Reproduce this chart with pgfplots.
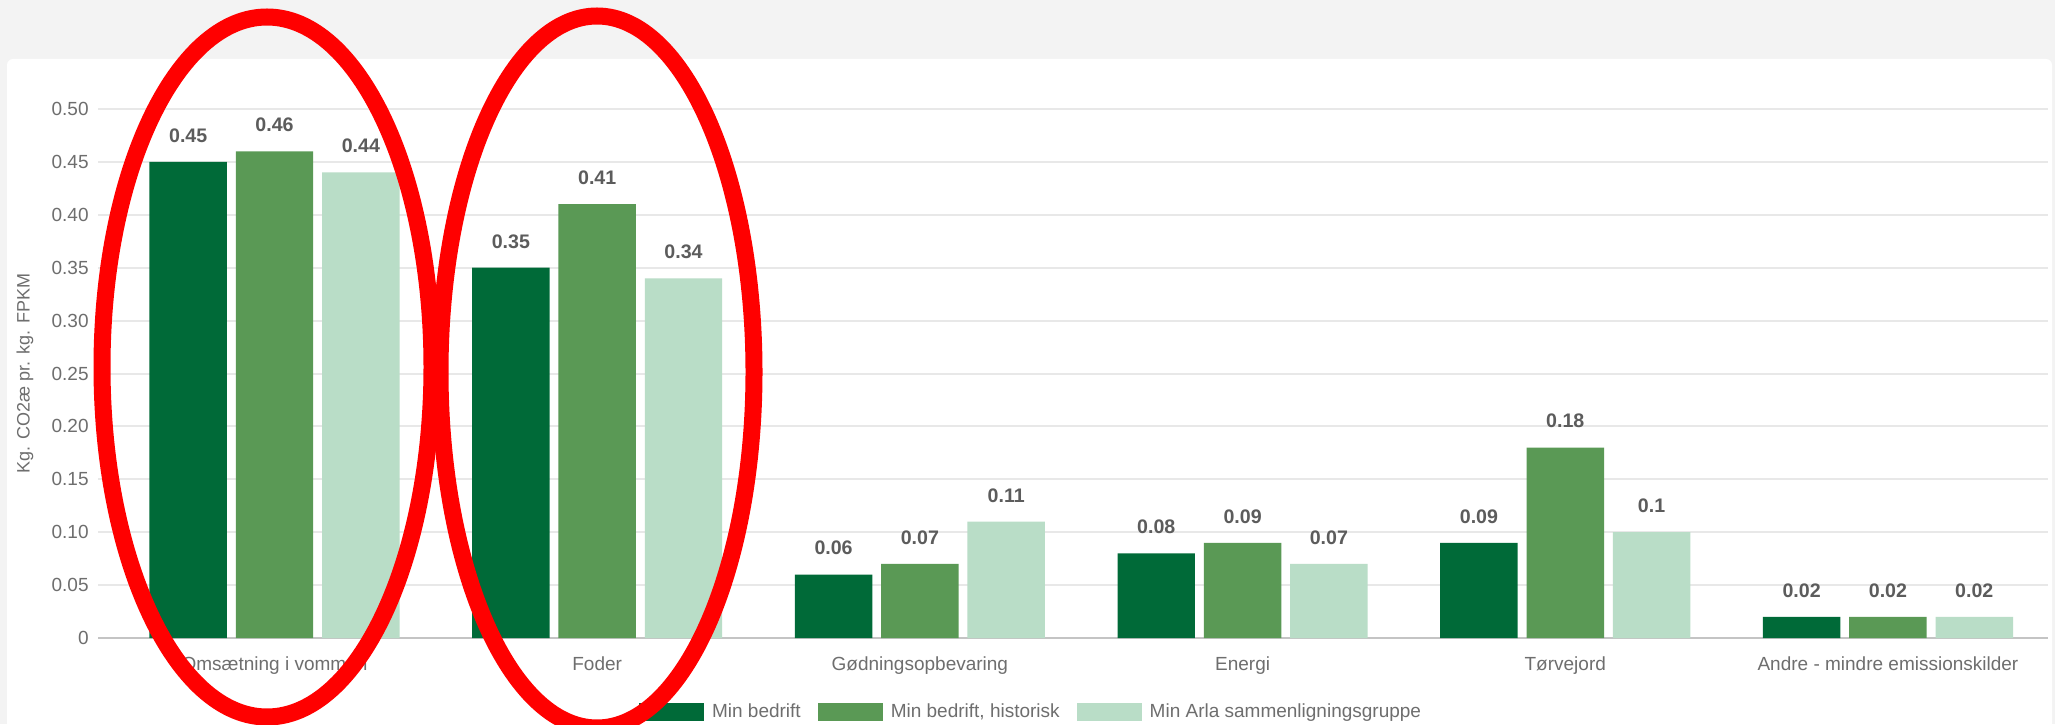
\documentclass[border=0pt]{standalone}
\usepackage{fontspec}
\setmainfont{Liberation Sans}
\usepackage{pgfplots}
\pgfplotsset{compat=1.18}
\definecolor{cDark}{HTML}{006A38}
\definecolor{cMid}{HTML}{5A9955}
\definecolor{cLight}{HTML}{B9DDC7}
\definecolor{bgGray}{HTML}{F3F3F3}
\definecolor{gridC}{HTML}{E8E8E8}
\definecolor{zeroC}{HTML}{C4C4C4}
\definecolor{txtC}{HTML}{6E6E6E}
\definecolor{valC}{HTML}{5C5C5C}
\begin{document}
\begin{tikzpicture}[x=0.5pt,y=0.5pt]
\clip (0,0) rectangle (2055,724);
\fill[bgGray] (0,0) rectangle (2055,724);
\fill[white, rounded corners=3pt] (7,-20) rectangle (2052,665);
\begin{axis}[
  at={(49pt,43pt)}, anchor=south west, scale only axis,
  width=975pt, height=264.5pt,
  ymin=0, ymax=0.5, xmin=-0.547, xmax=5.496,
  axis line style={draw=none},
  major tick length=0pt,
  ytick={0,0.05,0.1,0.15,0.2,0.25,0.3,0.35,0.4,0.45,0.5},
  yticklabels={0,0.05,0.10,0.15,0.20,0.25,0.30,0.35,0.40,0.45,0.50},
  ymajorgrids, grid style={gridC, line width=1pt},
  xtick={0,1,2,3,4,5},
  xticklabels={Omsætning i vommen, Foder, Gødningsopbevaring, Energi, Tørvejord, Andre - mindre emissionskilder},
  ticklabel style={font=\fontsize{9.5}{11}\selectfont, text=txtC},
  yticklabel style={anchor=east, inner sep=0pt, xshift=-4.5pt},
  xticklabel style={anchor=north, inner sep=0pt, yshift=-9pt},
  ylabel={Kg. CO2æ pr. kg. FPKM},
  every axis y label/.style={at={(axis description cs:-0.0374,0.5)}, rotate=90, anchor=center, font=\fontsize{9}{11}\selectfont, text=txtC},
  ybar, bar width=0.24,
  nodes near coords={\pgfmathprintnumber[fixed,precision=2,assume math mode=true]{\pgfplotspointmeta}},
  nodes near coords style={font=\bfseries\fontsize{9.8}{11}\selectfont, text=valC, anchor=south, inner sep=0pt, yshift=9.5pt},
  legend image code/.code={\draw[#1,draw=none] (0pt,-4.5pt) rectangle (32.5pt,4.5pt);},
  legend columns=3,
  legend style={at={(axis description cs:0.478,-0.14)}, anchor=center, draw=none, fill=none,
    font=\fontsize{9.5}{11}\selectfont, text=txtC, nodes={inner sep=0pt},
    /tikz/every odd column/.append style={column sep=4pt},
    /tikz/every even column/.append style={column sep=8.5pt}},
  clip=false,
]
\draw[zeroC, line width=1.2pt] (axis cs:-0.547,0) -- (axis cs:5.496,0);
\addplot[fill=cDark, draw=none, bar shift=-0.2675] coordinates {(0,0.45) (1,0.35) (2,0.06) (3,0.08) (4,0.09) (5,0.02)};
\addplot[fill=cMid, draw=none, bar shift=0] coordinates {(0,0.46) (1,0.41) (2,0.07) (3,0.09) (4,0.18) (5,0.02)};
\addplot[fill=cLight, draw=none, bar shift=0.2675] coordinates {(0,0.44) (1,0.34) (2,0.11) (3,0.07) (4,0.10) (5,0.02)};
\legend{Min bedrift, {Min bedrift, historisk}, Min Arla sammenligningsgruppe}
\end{axis}
\draw[red, line width=8.5pt] (267,357) ellipse [x radius=82.5pt, y radius=175pt];
\draw[red, line width=8.5pt] (597,352) ellipse [x radius=78.5pt, y radius=178pt];
\end{tikzpicture}
\end{document}
